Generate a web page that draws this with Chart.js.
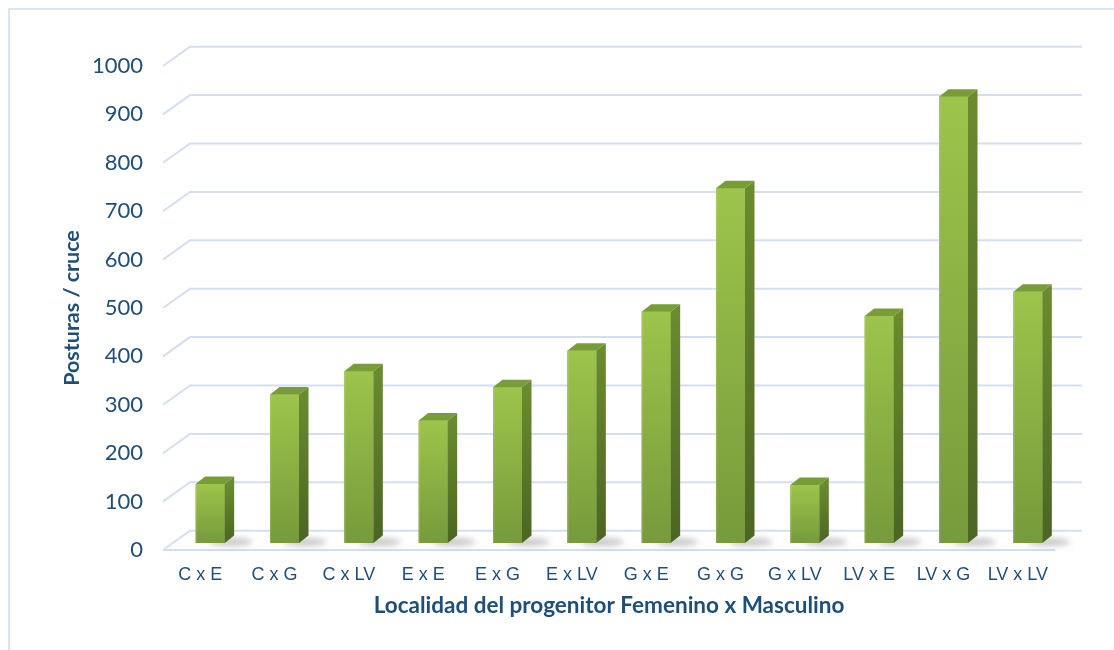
<!DOCTYPE html>
<html>
<head>
<meta charset="utf-8">
<title>Posturas por cruce</title>
<script src="https://cdn.jsdelivr.net/npm/chart.js@4.4.1/dist/chart.umd.min.js"></script>
<style>
  html, body { margin: 0; padding: 0; background: #ffffff; overflow: hidden; }
  #wrap { position: relative; width: 1114px; height: 650px; overflow: hidden; }
  #frame { position: absolute; left: 8px; top: 8px; width: 1300px; height: 800px;
           border: 2px solid #DCE5F2; box-sizing: border-box; }
  #chart { position: absolute; left: 0; top: 0; }
</style>
</head>
<body>
<div id="wrap">
  <div id="frame"></div>
  <canvas id="chart" width="1114" height="650"></canvas>
</div>
<script>
// Crosses: locality of the female parent x locality of the male parent
const categories = ['C x E', 'C x G', 'C x LV', 'E x E', 'E x G', 'E x LV',
                    'G x E', 'G x G', 'G x LV', 'LV x E', 'LV x G', 'LV x LV'];
// Egg masses (posturas) per cross
const posturas = [122, 307, 355, 253, 322, 397, 478, 733, 120, 469, 922, 519];
// Value axis
const yMin = 0;
const yMax = 1000;
const yStep = 100;

const TEXT = '#1F4E79';
const GRID = '#D3DFF0';
const WALL = { dx: 27, dy: -19.3 };   // back wall offset of the 3D box
const BAR  = { dx: 10, dy: -7 };      // bars sit partway into the depth
const FACE = { dx: 9.5, dy: -7.5 };   // depth of each bar prism

const box3d = {
  id: 'box3d',
  beforeDatasetsDraw(chart) {
    const { ctx, chartArea: a, scales: { y } } = chart;
    ctx.save();
    ctx.strokeStyle = GRID;
    ctx.lineWidth = 2;
    ctx.lineCap = 'butt';
    const wallRight = a.right + WALL.dx;
    for (let v = yMin; v <= yMax; v += yStep) {
      const py = y.getPixelForValue(v);
      ctx.beginPath();
      ctx.moveTo(a.left, py);
      ctx.lineTo(a.left + WALL.dx, py + WALL.dy);
      ctx.lineTo(wallRight, py + WALL.dy);
      ctx.stroke();
    }
    // front edge of the floor
    const p0 = y.getPixelForValue(yMin);
    ctx.beginPath();
    ctx.moveTo(a.left, p0);
    ctx.lineTo(a.right, p0);
    ctx.stroke();

    // soft shadows cast on the floor
    const meta = chart.getDatasetMeta(0);
    ctx.filter = 'blur(3px)';
    meta.data.forEach(el => {
      const { x, base, width } = el.getProps(['x', 'base', 'width'], true);
      const cx = x + BAR.dx + width / 2 + 6;
      const cy = base + BAR.dy - 1;
      ctx.fillStyle = 'rgba(60,60,60,0.32)';
      ctx.beginPath();
      ctx.ellipse(cx, cy, width * 0.75, 3.5, 0, 0, Math.PI * 2);
      ctx.fill();
    });
    ctx.filter = 'none';
    ctx.restore();

    // shift the bars into the depth of the box
    ctx.save();
    ctx.translate(BAR.dx, BAR.dy);
  },
  afterDatasetsDraw(chart) {
    const { ctx } = chart;
    const meta = chart.getDatasetMeta(0);
    meta.data.forEach(el => {
      const { x, y, base, width } = el.getProps(['x', 'y', 'base', 'width'], true);
      const l = x - width / 2, r = x + width / 2;

      // front face
      const gf = ctx.createLinearGradient(0, y, 0, base);
      gf.addColorStop(0, '#9DC44B');
      gf.addColorStop(1, '#779A3B');
      ctx.fillStyle = gf;
      ctx.fillRect(l, y, width, base - y);
      ctx.fillStyle = 'rgba(255,255,255,0.10)';
      ctx.fillRect(l, y, 1.5, base - y);

      // side face
      const gs = ctx.createLinearGradient(0, y, 0, base);
      gs.addColorStop(0, '#6A8B2F');
      gs.addColorStop(1, '#4B6523');
      ctx.fillStyle = gs;
      ctx.beginPath();
      ctx.moveTo(r, y);
      ctx.lineTo(r + FACE.dx, y + FACE.dy);
      ctx.lineTo(r + FACE.dx, base + FACE.dy);
      ctx.lineTo(r, base);
      ctx.closePath();
      ctx.fill();

      // top face
      ctx.fillStyle = '#789C36';
      ctx.beginPath();
      ctx.moveTo(l, y);
      ctx.lineTo(l + FACE.dx, y + FACE.dy);
      ctx.lineTo(r + FACE.dx, y + FACE.dy);
      ctx.lineTo(r, y);
      ctx.closePath();
      ctx.fill();
    });
    ctx.restore();
  }
};

new Chart(document.getElementById('chart'), {
  type: 'bar',
  data: {
    labels: categories,
    datasets: [{
      data: posturas,
      backgroundColor: '#8AB043',
      borderWidth: 0,
      barPercentage: 0.39,
      categoryPercentage: 1
    }]
  },
  options: {
    responsive: false,
    animation: false,
    layout: { padding: { left: 0, right: 59, top: 66, bottom: 0 } },
    plugins: { legend: { display: false }, tooltip: { enabled: false } },
    scales: {
      x: {
        grid: { display: false },
        border: { display: false },
        ticks: {
          color: TEXT,
          font: { family: '"Liberation Sans", Arial, sans-serif', size: 18 },
          padding: 6,
          maxRotation: 0,
          autoSkip: false
        },
        title: {
          display: true,
          text: 'Localidad del progenitor Femenino x Masculino',
          color: TEXT,
          font: { family: 'Lato, "Open Sans", sans-serif', size: 22.5, weight: 'bold' },
          padding: { top: 0, bottom: 31 }
        },
        afterFit(scale) { scale.height = 100; }
      },
      y: {
        min: yMin,
        max: yMax,
        grid: { display: false },
        border: { display: false },
        ticks: {
          stepSize: yStep,
          color: TEXT,
          font: { family: 'Lato, "Open Sans", sans-serif', size: 22 },
          padding: 12,
          callback: v => String(v)
        },
        title: {
          display: true,
          text: 'Posturas / cruce',
          color: TEXT,
          font: { family: 'Lato, "Open Sans", sans-serif', size: 21.5, weight: 'bold' },
          padding: { top: 59, bottom: 0 }
        },
        afterFit(scale) { scale.width = 163; }
      }
    }
  },
  plugins: [box3d]
});
</script>
</body>
</html>
